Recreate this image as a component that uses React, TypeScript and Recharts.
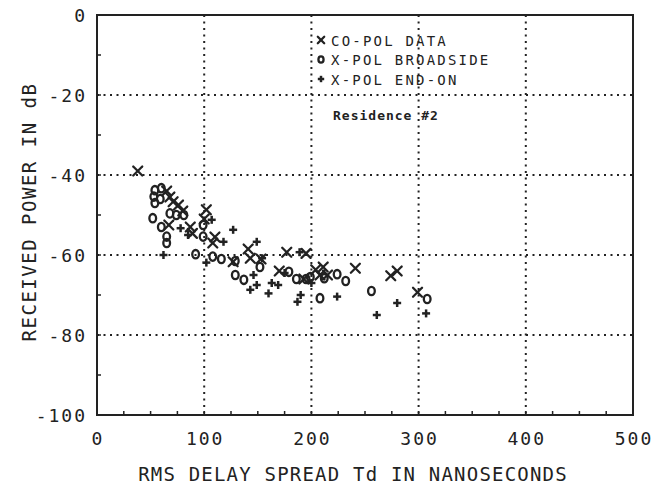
import React from "react";
import {
  ScatterChart,
  Scatter,
  XAxis,
  YAxis,
  CartesianGrid,
  ReferenceArea,
  Label,
} from "recharts";

// RMS delay spread (ns) vs received power (dB), Residence #2
const coPolDelay = [38, 65, 68, 71, 76, 80, 67, 87, 89, 102, 100, 110, 108, 127, 141, 143, 153, 177, 195, 204, 211, 208, 215, 241, 274, 280, 299, 170, 193];
const coPolPower = [-39, -44, -45.5, -46.7, -47.5, -49, -52.5, -53, -54.6, -48.7, -51, -55.5, -57, -61.7, -58.5, -60.8, -61, -59.3, -59.6, -63.7, -63, -65, -65, -63.3, -65.2, -64, -69.3, -64, -66];

const broadDelay = [54, 60, 53, 59, 54, 68, 74, 81, 52, 60, 65, 65, 92, 99, 99, 108, 116, 129, 129, 137, 152, 179, 186, 195, 199, 208, 212, 224, 232, 256, 308];
const broadPower = [-43.8, -43.3, -45.4, -46, -47, -49.6, -50, -50, -50.8, -53, -55.4, -57, -59.8, -52.5, -55.4, -60.4, -61, -61.5, -65, -66.2, -63, -64.2, -66, -66, -65.5, -70.8, -65.8, -64.8, -66.5, -69, -71];

const endOnDelay = [62, 78, 85, 107, 118, 127, 102, 149, 154, 146, 143, 149, 163, 169, 160, 189, 187, 190, 224, 261, 280, 307, 200, 175];
const endOnPower = [-60, -53.3, -55, -51.2, -56.7, -53.7, -61.9, -56.7, -60.8, -65, -68.7, -67.5, -67, -67.5, -69.6, -59.3, -71.7, -70, -70.4, -75, -72, -74.6, -67, -64.5];

const xMajorTicks = [0, 100, 200, 300, 400, 500];
const yMajorTicks = [-100, -80, -60, -40, -20, 0];
const xGrid = [100, 200, 300, 400];
const yGrid = [-80, -60, -40, -20];
const xTicks = [0, 25, 50, 75, 100, 125, 150, 175, 200, 225, 250, 275, 300, 325, 350, 375, 400, 425, 450, 475, 500];
const yTicks = [-100, -90, -80, -70, -60, -50, -40, -30, -20, -10, 0];

const legendLabels = ["CO-POL DATA", "X-POL BROADSIDE", "X-POL END-ON"];
const noteText = "Residence #2";

const toPoints = (xs: number[], ys: number[]) => xs.map((x, i) => ({ x, y: ys[i] }));
const coPol = toPoints(coPolDelay, coPolPower);
const broadside = toPoints(broadDelay, broadPower);
const endOn = toPoints(endOnDelay, endOnPower);

const INK = "#222";
const FONT = "'DejaVu Sans Mono', monospace";

function Cross({ cx, cy, s = 4.5 }: any) {
  return (
    <g stroke={INK} strokeWidth={2.3} strokeLinecap="round">
      <line x1={cx - s} y1={cy - s} x2={cx + s} y2={cy + s} />
      <line x1={cx - s} y1={cy + s} x2={cx + s} y2={cy - s} />
    </g>
  );
}

function Ring({ cx, cy, s = 4.2 }: any) {
  return <ellipse cx={cx} cy={cy} rx={s * 0.8} ry={s} fill="none" stroke={INK} strokeWidth={2.3} />;
}

function Plus({ cx, cy, s = 4 }: any) {
  return (
    <g stroke={INK} strokeWidth={2.5}>
      <line x1={cx - s} y1={cy} x2={cx + s} y2={cy} />
      <line x1={cx} y1={cy - s} x2={cx} y2={cy + s} />
    </g>
  );
}

function XTick({ x, y, payload }: any) {
  const major = xMajorTicks.includes(payload.value);
  return (
    <g>
      {payload.value > 0 && payload.value < 500 && (
        <line x1={x} y1={y} x2={x} y2={y - 4} stroke={INK} strokeWidth={1.5} />
      )}
      {major && (
        <text x={x + 1} y={y + 30} textAnchor="middle" fontFamily={FONT} fontSize={18} letterSpacing={2} fill={INK}>
          {payload.value}
        </text>
      )}
    </g>
  );
}

function YTick({ x, y, payload }: any) {
  const major = yMajorTicks.includes(payload.value);
  return (
    <g>
      {payload.value > -100 && payload.value < 0 && (
        <line x1={x} y1={y} x2={x + 4} y2={y} stroke={INK} strokeWidth={1.5} />
      )}
      {major && (
        <text x={x - 10} y={y + 7} textAnchor="end" fontFamily={FONT} fontSize={18} letterSpacing={2} fill={INK}>
          {payload.value}
        </text>
      )}
    </g>
  );
}

function LegendBox() {
  const shapes = [Cross, Ring, Plus];
  return (
    <g>
      {legendLabels.map((t, i) => {
        const Shape = shapes[i];
        const cy = 32 + i * 19.5;
        return (
          <g key={t}>
            <Shape cx={313} cy={cy} s={3.2} />
            <text x={323} y={cy + 5.5} fontFamily={FONT} fontSize={14} letterSpacing={2.2} fill={INK}>
              {t}
            </text>
          </g>
        );
      })}
      <text x={325} y={112} fontFamily={FONT} fontSize={13} fontWeight="bold" letterSpacing={1} fill={INK}>
        {noteText}
      </text>
    </g>
  );
}

export default function App() {
  return (
    <ScatterChart
      width={646}
      height={483}
      margin={{ top: 7, right: 21, bottom: 0, left: 0 }}
      style={{ background: "#fff", overflow: "visible" }}
    >
      <CartesianGrid
        stroke={INK}
        strokeWidth={2}
        strokeDasharray="2 4.5"
        horizontalValues={yGrid}
        verticalValues={xGrid}
      />
      <XAxis
        type="number"
        dataKey="x"
        domain={[0, 500]}
        ticks={xTicks}
        interval={0}
        height={76}
        tickSize={0}
        tickMargin={0}
        tickLine={false}
        axisLine={false}
        tick={<XTick />}
      >
        <Label
          content={() => (
            <text x={345} y={473} textAnchor="middle" fontFamily={FONT} fontSize={19} letterSpacing={1.2} fill={INK}>
              RMS DELAY SPREAD Td IN NANOSECONDS
            </text>
          )}
        />
      </XAxis>
      <YAxis
        type="number"
        dataKey="y"
        domain={[-100, 0]}
        ticks={yTicks}
        interval={0}
        width={89}
        tickSize={0}
        tickMargin={0}
        tickLine={false}
        axisLine={false}
        tick={<YTick />}
      >
        <Label
          content={() => (
            <text
              x={28}
              y={204}
              transform="rotate(-90 28 204)"
              textAnchor="middle"
              fontFamily={FONT}
              fontSize={19}
              letterSpacing={1.5}
              fill={INK}
            >
              RECEIVED POWER IN dB
            </text>
          )}
        />
      </YAxis>
      <ReferenceArea
        x1={0}
        x2={500}
        y1={-100}
        y2={0}
        fill="none"
        stroke={INK}
        strokeWidth={2}
        fillOpacity={0}
        ifOverflow="visible"
      >
        <Label content={() => <LegendBox />} />
      </ReferenceArea>
      <Scatter data={coPol} shape={(p: any) => <Cross cx={p.cx} cy={p.cy} />} isAnimationActive={false} />
      <Scatter data={broadside} shape={(p: any) => <Ring cx={p.cx} cy={p.cy} />} isAnimationActive={false} />
      <Scatter data={endOn} shape={(p: any) => <Plus cx={p.cx} cy={p.cy} />} isAnimationActive={false} />
    </ScatterChart>
  );
}
